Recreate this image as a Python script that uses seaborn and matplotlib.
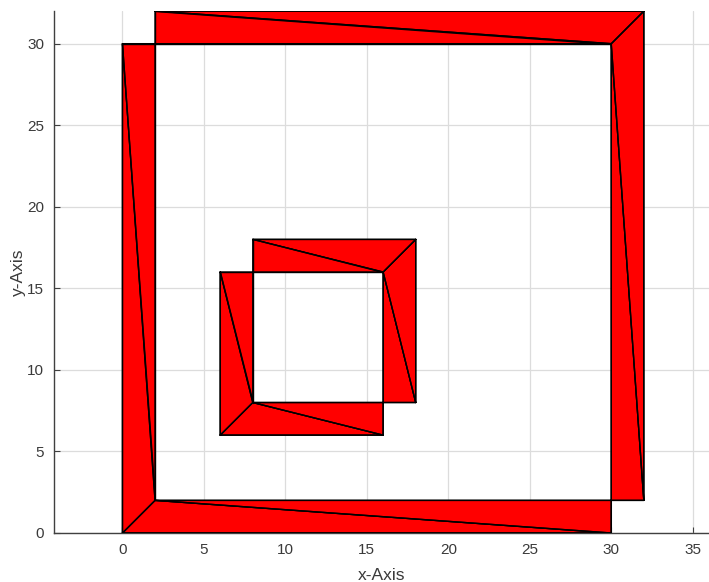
import matplotlib
matplotlib.use("Agg")
import matplotlib.pyplot as plt
import matplotlib.tri as mtri
import seaborn as sns

sns.set_theme(style="whitegrid")
plt.rcParams["font.family"] = ["Liberation Sans", "DejaVu Sans"]

# Mesh vertices: outer frame (0..32) and inner frame (6..18)
vx = [0, 30, 30, 32, 32, 2, 2, 0, 2, 30,
      6, 16, 16, 18, 18, 8, 8, 6, 8, 16]
vy = [0, 0, 2, 2, 32, 32, 30, 30, 2, 30,
      6, 6, 8, 8, 18, 18, 16, 16, 8, 16]

# Triangle connectivity (vertex indices)
triangles = [
    [0, 1, 8], [8, 1, 2],      # outer bottom
    [2, 3, 9], [3, 4, 9],      # outer right
    [9, 4, 5], [5, 6, 9],      # outer top
    [0, 8, 7], [8, 6, 7],      # outer left
    [10, 11, 18], [18, 11, 12],  # inner bottom
    [12, 13, 19], [13, 14, 19],  # inner right
    [19, 14, 15], [15, 16, 19],  # inner top
    [10, 18, 17], [18, 16, 17],  # inner left
]

x_ticks = [0, 5, 10, 15, 20, 25, 30, 35]
y_ticks = [0, 5, 10, 15, 20, 25, 30]

fig = plt.figure(figsize=(7.09, 5.82), dpi=100)
ax = fig.add_axes([0.0762, 0.0842, 0.9238, 0.8968])

tri = mtri.Triangulation(vx, vy, triangles)
ax.tripcolor(tri, facecolors=[1.0] * len(triangles),
             cmap=matplotlib.colors.ListedColormap(["#ff0000"]),
             edgecolors="black", linewidth=1.0, zorder=3)
ax.triplot(tri, color="black", linewidth=1.0, zorder=4)

ax.set_xlim(-4.2, 36.0)
ax.set_ylim(0, 32)
ax.set_xticks(x_ticks)
ax.set_yticks(y_ticks)

ax.grid(True, color="#dcdcdc", linewidth=0.9)
ax.set_axisbelow(True)
for side in ("top", "right"):
    ax.spines[side].set_visible(False)
for side in ("left", "bottom"):
    ax.spines[side].set_visible(True)
    ax.spines[side].set_color("#404040")
    ax.spines[side].set_linewidth(1.0)

ax.tick_params(axis="both", direction="in", length=4, width=0.8, color="#404040",
               labelsize=11, labelcolor="#3a3a3a", pad=7, left=True, bottom=True)
ax.set_xlabel("x-Axis", fontsize=12.5, color="#3a3a3a", labelpad=8)
ax.set_ylabel("y-Axis", fontsize=12.5, color="#3a3a3a", labelpad=1)
ax.set_facecolor("white")

fig.savefig("out.png", dpi=100)
